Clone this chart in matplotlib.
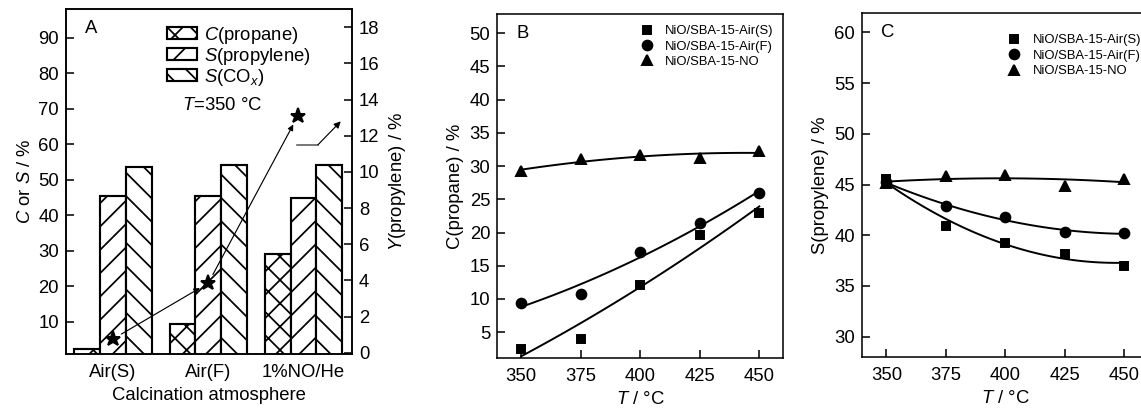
import numpy as np
import matplotlib
matplotlib.use('Agg')
import matplotlib.pyplot as plt

plt.rcParams['font.family'] = ['Liberation Sans', 'DejaVu Sans']
plt.rcParams['mathtext.fontset'] = 'custom'
plt.rcParams['mathtext.rm'] = 'Liberation Sans'
plt.rcParams['mathtext.it'] = 'Liberation Sans:italic'
plt.rcParams['hatch.linewidth'] = 0.9
plt.rcParams['axes.linewidth'] = 0.8

# panel A data
atmospheres = ['Air(S)', 'Air(F)', '1%NO/He']
conv_propane = [2.5, 9.4, 29.1]
sel_propylene = [45.5, 45.5, 45.0]
sel_cox = [53.7, 54.1, 54.3]
yield_propylene = [0.76, 3.85, 13.1]

# panels B and C data
temps = [350, 375, 400, 425, 450]
conv_air_s = [2.5, 4.0, 12.1, 19.6, 22.9]
conv_air_f = [9.4, 10.8, 17.0, 21.4, 25.9]
conv_no = [29.2, 31.1, 31.6, 31.2, 32.3]
sel_air_s = [45.5, 40.9, 39.25, 38.2, 37.0]
sel_air_f = [45.2, 42.9, 41.75, 40.3, 40.2]
sel_no = [45.1, 45.8, 45.9, 44.85, 45.5]

series_names = ['NiO/SBA-15-Air(S)', 'NiO/SBA-15-Air(F)', 'NiO/SBA-15-NO']

dpi = 140
fig = plt.figure(figsize=(1141 / dpi, 408 / dpi), dpi=dpi)

fs = 9.5
tick_kw = dict(direction='in', length=4, width=0.8, labelsize=fs)

# ---------------- panel A ----------------
axA = fig.add_axes([0.0576, 0.1324, 0.2509, 0.8449])
x = np.arange(len(atmospheres))
w = 0.27
bar_kw = dict(width=w, color='white', edgecolor='black', linewidth=1.1)
bC = axA.bar(x - w, conv_propane, hatch='xx', **bar_kw)
bS = axA.bar(x, sel_propylene, hatch='//', **bar_kw)
bX = axA.bar(x + w, sel_cox, hatch='\\\\', **bar_kw)
axA.set_xlim(-0.496, 2.508)
axA.set_ylim(1, 98)
axA.set_yticks(range(10, 100, 10))
axA.set_xticks(x)
axA.set_xticklabels(atmospheres)
axA.tick_params(axis='y', **tick_kw)
axA.tick_params(axis='x', length=0, pad=5, labelsize=fs)
axA.set_xlabel('Calcination atmosphere', fontsize=fs, labelpad=3)
axA.set_ylabel('$C$ or $S$ / %', fontsize=fs, labelpad=2)
axA.text(0.067, 0.93, 'A', transform=axA.transAxes, fontsize=fs)
axA.text(0.406, 0.722, '$T$=350 °C', transform=axA.transAxes, fontsize=fs,
         va='center')
axA.legend([bC, bS, bX], ['$C$(propane)', '$S$(propylene)', '$S$(CO$_x$)'],
           loc='upper left', bbox_to_anchor=(0.355, 0.955), frameon=False,
           fontsize=fs, handlelength=1.6, handleheight=0.6, labelspacing=0.0,
           handletextpad=0.4, borderpad=0, borderaxespad=0)

ax2 = axA.twinx()
ax2.set_ylim(-0.07, 19.0)
ax2.set_yticks(range(0, 19, 2))
ax2.tick_params(axis='y', **tick_kw)
ax2.set_ylabel('$Y$(propylene) / %', fontsize=fs, labelpad=4)
star_x = x.astype(float)
star_x[-1] -= 0.06
ax2.plot(star_x, yield_propylene, linestyle='none', marker='*', color='black',
         markersize=8)
for i in range(len(star_x) - 1):
    ax2.annotate('', xy=(star_x[i + 1], yield_propylene[i + 1]),
                 xytext=(star_x[i], yield_propylene[i]),
                 arrowprops=dict(arrowstyle='-|>', color='black', lw=0.6,
                                 mutation_scale=6, shrinkA=5, shrinkB=5))
ax2.plot([1.93, 2.15], [11.5, 11.5], color='#555555', lw=0.8)
ax2.annotate('', xy=(2.39, 12.8), xytext=(2.15, 11.5),
             arrowprops=dict(arrowstyle='-|>', color='black', lw=0.6,
                             mutation_scale=7, shrinkA=0, shrinkB=0))

# ---------------- panels B and C ----------------
markers = ['s', 'o', '^']
msizes = [4.2, 5.0, 5.5]
t_fine = np.linspace(350, 450, 100)


def line_panel(rect, data, ylim, yticks, label, ylabel, leg_anchor):
    ax = fig.add_axes(rect)
    handles = []
    for vals, m, ms, name in zip(data, markers, msizes, series_names):
        h, = ax.plot(temps, vals, linestyle='none', marker=m, color='black',
                     markersize=ms, label=name)
        handles.append(h)
        coef = np.polyfit(temps, vals, 2)
        ax.plot(t_fine, np.polyval(coef, t_fine), color='black', lw=1.0)
    ax.set_xlim(339.8, 460)
    ax.set_ylim(*ylim)
    ax.set_xticks(temps)
    ax.set_yticks(yticks)
    ax.tick_params(axis='both', **tick_kw)
    ax.tick_params(axis='x', pad=5)
    ax.set_xlabel('$T$ / °C', fontsize=fs, labelpad=3)
    ax.set_ylabel(ylabel, fontsize=fs, labelpad=3)
    ax.text(0.068, 0.93, label, transform=ax.transAxes, fontsize=fs)
    ax.legend(handles=handles, loc='upper left', bbox_to_anchor=leg_anchor,
              frameon=False, fontsize=6.7, handlelength=1.0,
              handletextpad=0.9, labelspacing=0.25, borderpad=0,
              borderaxespad=0)
    return ax


axB = line_panel([0.4356, 0.1225, 0.2507, 0.8431],
                 [conv_air_s, conv_air_f, conv_no], (1.1, 52.9),
                 range(5, 55, 5), 'B', 'C(propane) / %', (0.5, 0.968))
axC = line_panel([0.7555, 0.125, 0.2507, 0.8431],
                 [sel_air_s, sel_air_f, sel_no], (28.0, 61.9),
                 range(30, 65, 5), 'C', 'S(propylene) / %', (0.51, 0.938))

fig.savefig('out.png', dpi=dpi)
